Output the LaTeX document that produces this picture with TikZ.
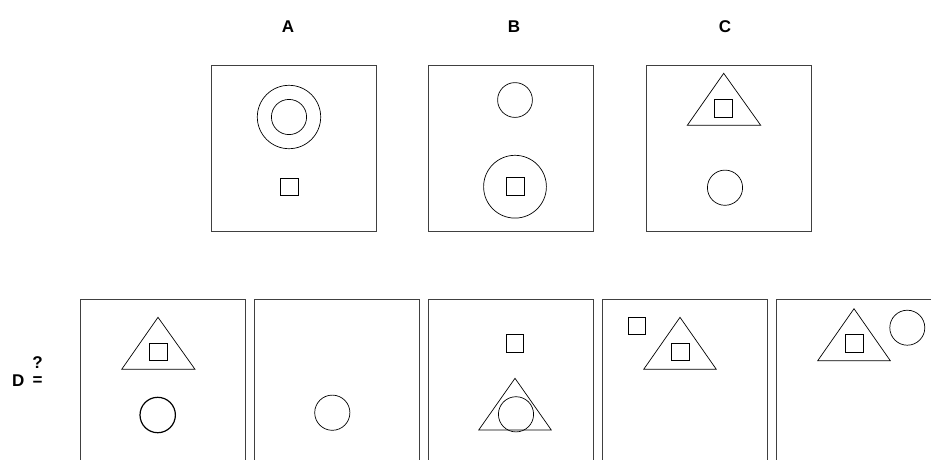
\documentclass[tikz,border=0pt]{standalone}
\usepackage{fontspec}
\setmainfont{Liberation Sans}
\usetikzlibrary{positioning}

\begin{document}
\begin{tikzpicture}[x=1pt, y=-1pt,
  panel/.style={draw=black!75, line width=0.9pt},
  fig/.style={draw, line width=0.7pt},
  lbl/.style={font=\bfseries\fontsize{17}{20}\selectfont, inner sep=0pt}]
  \clip (0,0) rectangle (931,459);
  % top row: A, B, C
  \node[lbl] (labA) at (288,26.5) {A};
  \node[lbl] (labB) at (514,26.5) {B};
  \node[lbl] (labC) at (725,26.5) {C};
  \draw[panel] (211,65) rectangle (376,231);
  \draw[panel] (428,65) rectangle (593,231);
  \draw[panel] (646,65) rectangle (811,231);
  % A
  \draw[fig] (289,117) circle[radius=31.7pt];
  \draw[fig] (289,117) circle[radius=17.6pt];
  \draw[fig] (280,178) rectangle (298,195.5);
  % B
  \draw[fig] (515,100) circle[radius=17.4pt];
  \draw[fig] (515,186.7) circle[radius=31.4pt];
  \draw[fig] (506.3,177.7) rectangle (524,195.3);
  % C
  \draw[fig] (723.7,73.3) -- (687.3,125.3) -- (760.7,125.3) -- cycle;
  \draw[fig] (714.7,99.3) rectangle (732.3,117);
  \draw[fig] (725,187.7) circle[radius=17.6pt];
  % answer row
  \node[lbl] (labD) at (18.3,381) {D};
  \node[lbl] (eq) at (37.5,381.5) {=};
  \node[lbl] (qm) at (37.5,362.5) {?};
  \foreach \px in {80,254,428,602,776}
    \draw[panel] (\px,299.5) rectangle ++(165,180);
  % option 1
  \draw[fig] (158,317.3) -- (121.7,369.3) -- (195,369.3) -- cycle;
  \draw[fig] (149.3,343.3) rectangle (167,360.7);
  \draw[fig, line width=1.2pt] (157.7,415) circle[radius=17.7pt];
  % option 2
  \draw[fig] (332.3,412.7) circle[radius=17.6pt];
  % option 3
  \draw[fig] (506,334.3) rectangle (523.7,352);
  \draw[fig] (515,378.3) -- (478.7,430) -- (551.3,430) -- cycle;
  \draw[fig] (516,414.3) circle[radius=17.6pt];
  % option 4
  \draw[fig] (628,317) rectangle (645.7,334.3);
  \draw[fig] (680,317.3) -- (643.7,369.3) -- (716.3,369.3) -- cycle;
  \draw[fig] (671.7,343.3) rectangle (689.3,360.7);
  % option 5
  \draw[fig] (854,308.7) -- (817.7,360.7) -- (890.3,360.7) -- cycle;
  \draw[fig] (845.3,334.3) rectangle (863,352);
  \draw[fig] (907.3,327.7) circle[radius=17.5pt];
\end{tikzpicture}
\end{document}
